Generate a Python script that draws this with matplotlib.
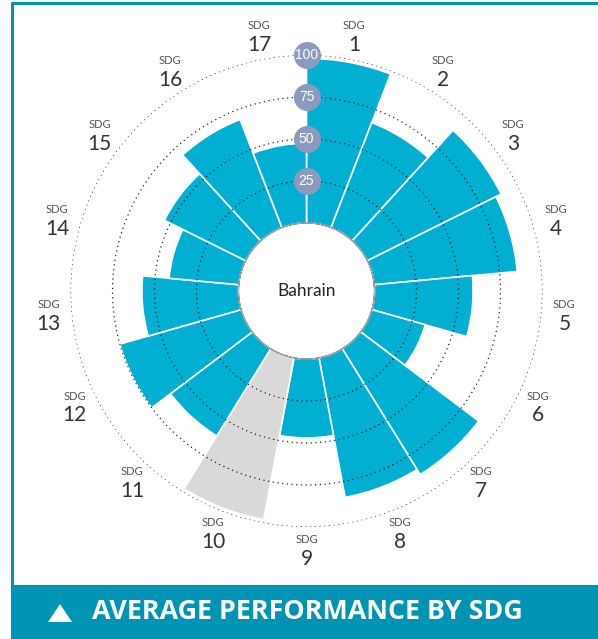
import numpy as np
import matplotlib
matplotlib.use("Agg")
import matplotlib.pyplot as plt
from matplotlib.patches import Rectangle, Polygon

# ---- data ----
sdg_labels = [str(i) for i in range(1, 18)]
scores = [98, 67, 89, 85.5, 58.7, 33, 88, 84.5, 47, 98, 61, 75, 57.5, 41.7, 54, 69, 47.5]
bar_colors = ['#00afd1'] * 9 + ['#d9d9d9'] + ['#00afd1'] * 7
ring_values = [25, 50, 75, 100]
ring_labels = ['25', '50', '75', '100']
country = 'Bahrain'
banner_title = 'AVERAGE PERFORMANCE BY SDG'

W, H = 598, 639
fig = plt.figure(figsize=(W / 100, H / 100), dpi=100)
fig.patch.set_facecolor('white')

# geometry in pixels
cx, cy = 306.5, 291.0
r_in, r_out = 68.0, 236.0
ax = fig.add_axes([(cx - r_out) / W, (H - cy - r_out) / H, 2 * r_out / W, 2 * r_out / H],
                  projection='polar')
ax.set_theta_zero_location('N')
ax.set_theta_direction(-1)
ax.set_ylim(0, 100)
ax.set_rorigin(-100 * r_in / (r_out - r_in))
ax.set_facecolor('white')
ax.grid(False)
ax.set_xticks([])
ax.set_yticks([])
ax.spines['polar'].set_visible(False)
if 'inner' in ax.spines:
    ax.spines['inner'].set_visible(False)

n = len(scores)
width = 2 * np.pi / n
thetas = np.arange(n) * width
ax.bar(thetas, scores, width=width, bottom=0, align='edge',
       color=bar_colors, edgecolor='white', linewidth=1.2, zorder=2)

# dotted rings
tt = np.linspace(0, 2 * np.pi, 720)
for rv in ring_values:
    ax.plot(tt, np.full_like(tt, rv), color='#111111', lw=0.85,
            linestyle=(0, (1, 3)), zorder=3)

# inner circle outline
ax.plot(tt, np.zeros_like(tt), color='#b5b5b5', lw=0.8, zorder=4, clip_on=False)

# ring value badges
for rv, lab in zip(ring_values, ring_labels):
    ax.plot([0], [rv], marker='o', markersize=19.5, color='#8b9abf',
            markeredgewidth=0, zorder=5, clip_on=False)
    ax.text(0, rv, lab, ha='center', va='center', color='white', fontsize=10,
            family=['Liberation Sans', 'DejaVu Sans'], zorder=6, clip_on=False)

# SDG labels
r_lab = (259 - r_in) / (r_out - r_in) * 100
for th, lab in zip(thetas + width / 2, sdg_labels):
    ax.annotate('SDG', xy=(th, r_lab), xytext=(0, 7.5), textcoords='offset points',
                ha='center', va='center', fontsize=8, color='#555555',
                family=['Lato', 'DejaVu Sans'], annotation_clip=False)
    ax.annotate(lab, xy=(th, r_lab), xytext=(0, -6.5), textcoords='offset points',
                ha='center', va='center', fontsize=15, color='#333333',
                family=['Lato', 'DejaVu Sans'], annotation_clip=False)

ax.text(0.5, 0.5, country, transform=ax.transAxes, ha='center', va='center',
        fontsize=12.5, color='#222222', family=['Lato', 'DejaVu Sans'], zorder=6)

# frame and banner
teal = '#0094b4'
fig.add_artist(Rectangle((11 / W, 1 - 5 / H), 1 - 11 / W, 3 / H, transform=fig.transFigure,
                         facecolor=teal, edgecolor='none'))
fig.add_artist(Rectangle((11 / W, 1 - 585 / H), 3 / W, 583 / H, transform=fig.transFigure,
                         facecolor=teal, edgecolor='none'))
fig.add_artist(Rectangle((11 / W, 0), 1 - 11 / W, 54 / H, transform=fig.transFigure,
                         facecolor=teal, edgecolor='none'))
fig.add_artist(Polygon([(48 / W, (H - 622) / H), (72 / W, (H - 622) / H), (60 / W, (H - 604) / H)],
                       closed=True, transform=fig.transFigure, facecolor='white', edgecolor='none'))
fig.text(92 / W, (H - 612) / H, banner_title, ha='left', va='center', color='white',
         fontsize=19.4, fontweight='bold', family=['Open Sans', 'DejaVu Sans'])

fig.savefig('out.png', dpi=100, facecolor='white')
